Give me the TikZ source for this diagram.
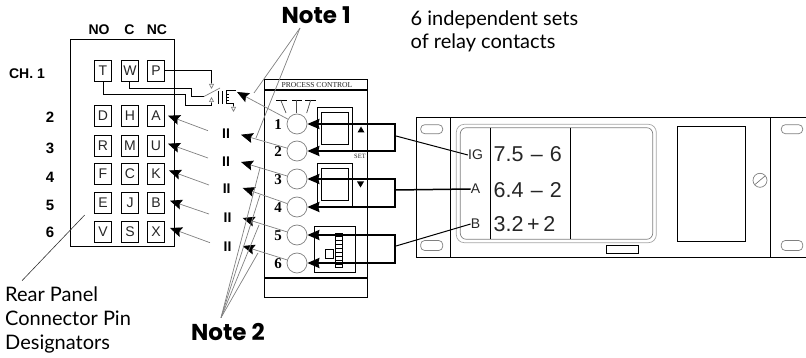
\documentclass[tikz,border=0pt]{standalone}
\usepackage{fontspec}
\setmainfont{Liberation Sans}
\newfontfamily\geo{Lato}
\newfontfamily\geob{Poppins}[Scale=1,BoldFont={* Bold}]
\newfontfamily\srf{Liberation Serif}
\usetikzlibrary{arrows.meta}
\definecolor{gr}{gray}{0.5}
\definecolor{txt}{gray}{0.15}
\tikzset{
 x=1pt,y=-1pt,
 line/.style={draw=black,line width=1pt},
 thin gray/.style={draw=gr,line width=0.7pt},
 pin/.style={draw=black,line width=1pt,minimum width=17pt,minimum height=21pt,inner sep=0pt,text=txt,font=\fontsize{14}{14}\selectfont},
 rowlab/.style={font=\bfseries\fontsize{15}{15}\selectfont,inner sep=0pt,text=black},
 hdr/.style={font=\bfseries\fontsize{14}{14}\selectfont,inner sep=0pt},
 dial/.style={circle,draw=gr,line width=0.7pt,minimum size=20pt,inner sep=0pt},
 dnum/.style={font=\srf\bfseries\fontsize{15}{15}\selectfont,inner sep=0pt},
 thickw/.style={draw=black,line width=2pt},
 graytip/.style={thin gray,-{Stealth[black,length=12pt,width=10pt,inset=2pt]}},
 opentip/.style={-{Triangle[open,gr,length=5pt,width=5pt]}},
 mark2/.style={font=\bfseries\fontsize{14}{14}\selectfont,inner sep=0pt},
 note/.style={font=\geob\bfseries\fontsize{23}{23}\selectfont,inner sep=0pt,anchor=west},
 caption/.style={font=\geo\fontsize{20}{23.7}\selectfont,inner sep=0pt,anchor=west,align=left,text=black},
 disp/.style={font=\fontsize{21.5}{21.5}\selectfont,inner sep=0pt,anchor=west,text=txt},
 dlab/.style={font=\fontsize{14}{14}\selectfont,inner sep=0pt,text=txt},
 slot/.style={draw=gr,line width=0.7pt,rounded corners=4pt},
}
\begin{document}
\begin{tikzpicture}
\useasboundingbox (0,0) rectangle (806,358);
% rear connector
\node[line,draw,minimum width=104pt,minimum height=207pt,inner sep=0pt] (rear) at (122.5,143) {};
\foreach \t/\xx/\yy in {T/103/71,W/130/71,P/156/71,D/103/116,H/130/116,A/156/116,R/103/146,M/130/146,U/156/146,F/103/174,C/130/174,K/156/174,E/103/203,J/130/203,B/156/203,V/103/232,S/130/232,X/156/232}
  \node[pin] (p\t) at (\xx,\yy) {\t};
\node[hdr] (hNO) at (99,30) {NO};
\node[hdr] (hC) at (129.5,30) {C};
\node[hdr] (hNC) at (157,30) {NC};
\node[hdr] (lch) at (27,74) {CH. 1};
\foreach \t/\yy in {2/117,3/148,4/177,5/205,6/232}
  \node[rowlab] (l\t) at (50,\yy) {\t};
% relay
\coordinate (nc) at (211.5,89);
\coordinate (no) at (211.5,97);
\coordinate (bl) at (204,96.5);
\coordinate (br) at (220,88);
\draw[line] ([yshift=.5pt]pP.east) -- (211.5,70.5) -- (211.5,84);
\draw[thin gray,opentip] (211.5,83) -- (nc);
\draw[line] ([xshift=-.5pt]pW.south) -- (129.5,88.5) -- (191.5,88.5) -- (191.5,96.5) -- (bl);
\draw[line] ([xshift=.5pt]pT.south) -- (103.5,94.5) -- (185.5,94.5) -- (185.5,105.5) -- (211.5,105.5) -- (211.5,102);
\draw[thin gray,opentip] (211.5,103) -- (no);
\draw[thin gray] (bl) -- (br);
\coordinate (ca) at (218.5,91); \coordinate (cb) at (218.5,104);
\coordinate (cc) at (222.5,91); \coordinate (cd) at (222.5,104);
\draw[line] (ca) -- (cb) (cc) -- (cd);
\draw[line] (236,90.5) -- (226.5,90.5) -- (226.5,103.5) -- (233.5,103.5) -- (233.5,107);
\draw[thin gray,opentip] (233.5,106) -- (233.5,112);
\foreach \yy in {94.5,97.5,100.5} \draw[line,line width=0.6pt] (226.5,\yy) -- (229,\yy);
% process control
\node[line,draw,minimum width=103pt,minimum height=218pt,inner sep=0pt] (pc) at (316,188.5) {};
\draw[line,line width=2pt] (pc.west |- 0,90) -- (pc.east |- 0,90);
\draw[line,line width=2pt] (pc.west |- 0,278) -- (pc.east |- 0,278);
\node[font=\srf\fontsize{7.6}{8}\selectfont,inner sep=0pt,text=txt] (pct) at (317,85) {PROCESS CONTROL};
\foreach \a/\b/\xx/\yy in {276/287/280.7/286,292/302/296/296,305/316/310.7/306.7}{
  \draw[line,line width=1pt] (\a,100.5) -- (\b,100.5);
  \draw[draw=black!70,line width=0.7pt] (\xx,100) -- (\yy,113);
}
\foreach \n/\yy in {1/124,2/151,3/179,4/207,5/235,6/263}{
  \node[dial] (c\n) at (297,\yy) {};
  \node[dnum] (n\n) at (278,\yy+1) {\n};
}
% button boxes
\draw[line] (317.5,107.5) rectangle (352.5,151);
\draw[line] (321.5,112.5) rectangle (348.5,144.5);
\draw[line] (317.5,163.5) rectangle (352.5,207);
\draw[line] (321.5,168.5) rectangle (348.5,200.5);
\fill (361,126.5) -- (364.5,132.5) -- (357.5,132.5) -- cycle;
\fill (360.5,187.5) -- (357,181.5) -- (364,181.5) -- cycle;
\node[font=\srf\fontsize{6.5}{7}\selectfont,inner sep=0pt,text=txt] (set) at (360,156) {SET};
\draw[line] (314.5,226.5) rectangle (355.5,272.5);
\draw[line] (325.5,249.5) rectangle (333.5,258.5);
\draw[line] (335.5,233.5) rectangle (342.5,267.5);
\fill (335.5,233.5) rectangle (342.5,237);
\foreach \yy in {240.5,244.5,248.5,252.5,256.5,260.5,264.5} \draw[line,line width=0.6pt] (335.5,\yy) -- (342.5,\yy);
% thick loops
\coordinate (r1) at (395,124); \coordinate (r2) at (395,151);
\coordinate (r3) at (395,179); \coordinate (r4) at (395,207);
\coordinate (r5) at (395,235); \coordinate (r6) at (395,263);
\draw[thickw,{Stealth[black,length=12pt,width=10pt,inset=1pt]}-{Stealth[black,length=12pt,width=10pt,inset=1pt]}] (c1.east) -- (r1) -- (r2) -- (c2.east);
\draw[thickw,{Stealth[black,length=12pt,width=10pt,inset=1pt]}-{Stealth[black,length=12pt,width=10pt,inset=1pt]}] (c3.east) -- (r3) -- (r4) -- (c4.east);
\draw[thickw,{Stealth[black,length=12pt,width=10pt,inset=1pt]}-{Stealth[black,length=12pt,width=10pt,inset=1pt]}] (c5.east) -- (r5) -- (r6) -- (c6.east);
% rack
\draw[line] (806,117.5) -- (416.5,117.5) -- (416.5,257.5) -- (806,257.5);
\draw[line] (450.5,117.5) -- (450.5,257.5);
\draw[line] (770.5,117.5) -- (770.5,257.5);
\draw[slot] (420.7,124.7) rectangle (442.7,133.7);
\draw[slot] (420.7,240.5) rectangle (442.7,250.5);
\draw[slot] (781.3,124.7) rectangle (802.7,133.7);
\draw[slot] (781.3,240.5) rectangle (802.7,250.5);
\draw[draw=black!35,line width=0.7pt,rounded corners=8pt] (456.3,124.3) rectangle (656.3,242.7);
\draw[draw=black!50,line width=0.7pt,rounded corners=6pt] (460.3,127.7) rectangle (652.7,239.3);
\draw[line] (490.5,127.7) -- (490.5,239);
\draw[line] (570.5,127.7) -- (570.5,239);
\draw[line] (606.5,245.5) rectangle (638.5,253.5);
\draw[line] (677.5,126.5) rectangle (745.5,241.5);
\node[circle,draw=gr,line width=0.7pt,minimum size=14pt,inner sep=0pt] (screw) at (760,180.3) {};
\draw[draw=black!60,line width=0.6pt] (755,184.5) -- (765,176);
\node[dlab] (dIG) at (475.5,155) {IG};
\node[dlab] (dA) at (475.5,189) {A};
\node[dlab] (dB) at (475.5,224) {B};
\node[disp] (v1) at (493.5,154) {7.5\,\,–\,\,6};
\node[disp] (v2) at (493.5,190) {6.4\,\,–\,\,2};
\node[disp] (v3) at (493.5,224) {3.2\,+\,2};
% links to rack
\draw[line] (396,136) -- (dIG.west);
\draw[line,line width=1.5pt] (395,190) -- (dA.west);
\draw[line] (396,246) -- (dB.west);
% arrows dial -> relay
\coordinate (t1) at (237,92);
\coordinate (t2) at (241,134.7);
\coordinate (t3) at (241,162);
\coordinate (t4) at (242.7,188);
\coordinate (t5) at (242.7,218);
\coordinate (t6) at (242.7,246);
\foreach \n in {1,...,6}
  \draw[graytip] (c\n) -- (t\n);
\foreach \a/\b/\c/\d in {208/130.7/168/115.7,208/158/168/143.7,209/185/169/170.5,209/214/170/200.7,210/242.7/170/228}
  \draw[graytip] (\a,\b) -- (\c,\d);
\foreach \i/\xx/\yy in {a/226/134,b/226/162,c/226.7/189,d/227.5/218,e/227.5/246.7}
  \node[mark2] (m\i) at (\xx,\yy) {II};
% notes
\node[note] (n1) at (281.5,15) {Note 1};
\node[note] (n2) at (191,331.7) {Note 2};
\coordinate (n1a) at (300,28);
\coordinate (n2a) at (221,317.7);
\draw[thin gray] (n1a) -- (254,93);
\draw[thin gray] (n1a) -- (256,138);
\foreach \xx/\yy in {260/168,260/195,259/225,258/253}
  \draw[thin gray] (n2a) -- (\xx,\yy);
% captions
\node[caption] (cap1) at (410.5,31.5) {6 independent sets\\of relay contacts};
\node[caption] (cap2) at (5,320) {Rear Panel\\Connector Pin\\Designators};
\draw[draw=black!80,line width=0.6pt] (22,280.7) -- (84.7,215);
\end{tikzpicture}
\end{document}
